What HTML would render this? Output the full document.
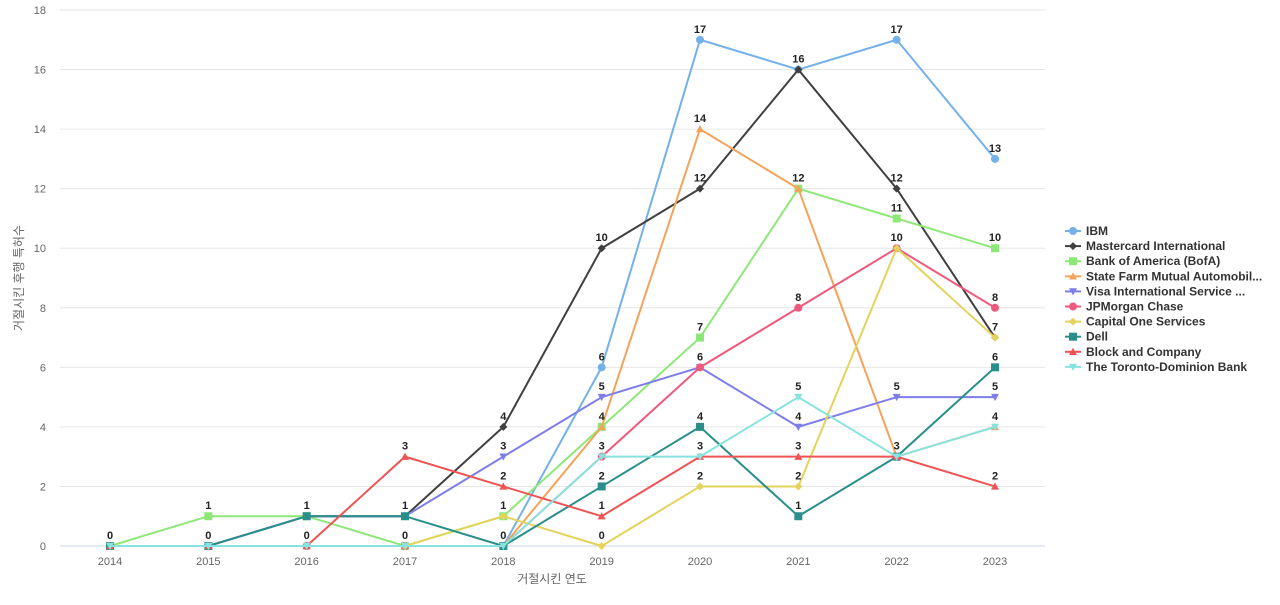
<!DOCTYPE html>
<html><head><meta charset="utf-8"><style>
body{margin:0;background:#fff;font-family:"Liberation Sans","Noto Sans CJK KR",sans-serif}
</style></head><body>
<svg id="c" width="1280" height="600" xmlns="http://www.w3.org/2000/svg" font-family="Liberation Sans, Noto Sans CJK KR, sans-serif"></svg>
<script>
const years=["2014","2015","2016","2017","2018","2019","2020","2021","2022","2023"];
const yTicks=[0,2,4,6,8,10,12,14,16,18];
const names=["IBM","Mastercard International","Bank of America (BofA)","State Farm Mutual Automobil...","Visa International Service ...","JPMorgan Chase","Capital One Services","Dell","Block and Company","The Toronto-Dominion Bank"];
const colors=["#74b1ea","#404040","#8ee878","#f5a25a","#7e7ee8","#ee5a7e","#e3d35a","#2a8f8a","#ef5454","#88e3de"];
const markers=["circle","diamond","square","triangle","tridown","circle","diamond","square","triangle","tridown"];
const sIBM=[0,0,0,0,0,6,17,16,17,13];
const sMaster=[0,0,1,1,4,10,12,16,12,7];
const sBofA=[0,1,1,0,1,4,7,12,11,10];
const sState=[0,0,0,0,0,4,14,12,3,4];
const sVisa=[0,0,1,1,3,5,6,4,5,5];
const sJPM=[0,0,0,0,0,3,6,8,10,8];
const sCap=[0,0,0,0,1,0,2,2,10,7];
const sDell=[0,0,1,1,0,2,4,1,3,6];
const sBlock=[0,0,0,3,2,1,3,3,3,2];
const sTD=[0,0,0,0,0,3,3,5,3,4];
const series=[sIBM,sMaster,sBofA,sState,sVisa,sJPM,sCap,sDell,sBlock,sTD];
const NS="http://www.w3.org/2000/svg",svg=document.getElementById('c');
function x(i){return 110+i*(995-110)/(years.length-1);}
function y(v){return 546-v*(546-10)/18;}
function mk(t,a,p){const e=document.createElementNS(NS,t);for(const k in a)e.setAttribute(k,a[k]);(p||svg).appendChild(e);return e;}
yTicks.forEach(v=>{
 const l=mk('line',{x1:60,x2:1045,y1:y(v),y2:y(v),stroke:v===0?'#c8d4e8':'#e6e6e6','stroke-width':1});
 
 
 const t=mk('text',{x:46,y:y(v)+4,'text-anchor':'end','font-size':11,fill:'#666'});t.textContent=v;
 
 
});
years.forEach((yr,i)=>{
 const t=mk('text',{x:x(i),y:565,'text-anchor':'middle','font-size':11,fill:'#666'});t.textContent=yr;
 
 
});
let xt=mk('text',{x:552,y:583,'text-anchor':'middle','font-size':12,fill:'#666'});xt.textContent='거절시킨 연도';


let yt=mk('text',{x:23,y:278,'text-anchor':'middle','font-size':12,fill:'#666',transform:'rotate(-90 23 278)'});yt.textContent='거절시킨 후행 특허수';


function marker(type,cx,cy,col,g,s){
 s=s||4;let e;
 if(type==='circle')e=mk('circle',{cx,cy,r:s,fill:col},g);
 else if(type==='square')e=mk('rect',{x:cx-s,y:cy-s,width:2*s,height:2*s,fill:col},g);
 else if(type==='diamond')e=mk('polygon',{points:`${cx},${cy-s} ${cx+s},${cy} ${cx},${cy+s} ${cx-s},${cy}`,fill:col},g);
 else if(type==='triangle')e=mk('polygon',{points:`${cx},${cy-s} ${cx+s},${cy+s*0.8} ${cx-s},${cy+s*0.8}`,fill:col},g);
 else e=mk('polygon',{points:`${cx},${cy+s} ${cx+s},${cy-s*0.8} ${cx-s},${cy-s*0.8}`,fill:col},g);
 return e;
}
series.forEach((s,k)=>{
 const g=mk('g',{});
 
 
 const pl=mk('polyline',{points:s.map((v,i)=>x(i)+','+y(v)).join(' '),fill:'none',stroke:colors[k],'stroke-width':2},g);
 
 
 s.forEach((v,i)=>{
  const m=marker(markers[k],x(i),y(v),colors[k],g);
  
  
 });
});
// value labels: for each year, label the max-drawn unique values
years.forEach((yr,i)=>{
 const seen={};
 series.forEach(s=>{const v=s[i];if(seen[v])return;seen[v]=1;
  const t=mk('text',{x:x(i),y:y(v)-7,'text-anchor':'middle','font-size':11,'font-weight':'bold',fill:'#222'});t.textContent=v;
  
  
 });
});
names.forEach((n,k)=>{
 const g=mk('g',{});
 
 
 const ly=231+k*15.1;
 mk('line',{x1:1065,x2:1081,y1:ly,y2:ly,stroke:colors[k],'stroke-width':2},g);
 marker(markers[k],1073,ly,colors[k],g,4);
 const t=mk('text',{x:1086,y:ly+4,'font-size':12,'font-weight':'bold',fill:'#333'},g);t.textContent=n;
});
</script>
</body></html>
